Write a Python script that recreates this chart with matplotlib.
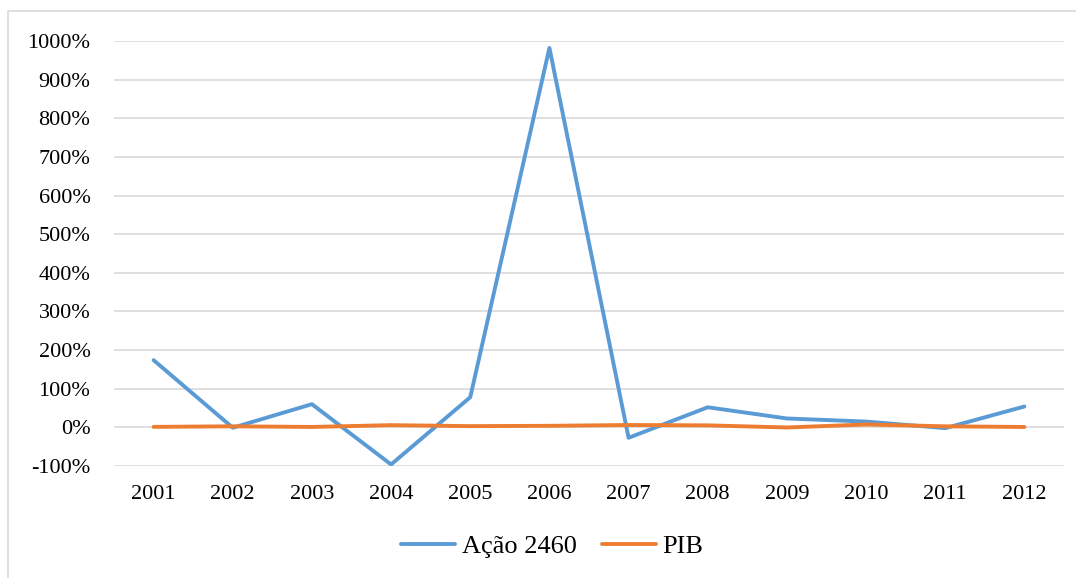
import matplotlib
matplotlib.use("Agg")
import matplotlib.pyplot as plt
from matplotlib.patches import Rectangle
from matplotlib.ticker import FuncFormatter

anos = ['2001', '2002', '2003', '2004', '2005', '2006',
        '2007', '2008', '2009', '2010', '2011', '2012']
acao = [174, -1, 60, -96, 78, 982, -27, 52, 23, 15, -2, 54]
pib = [1.3, 2.7, 1.1, 5.7, 3.2, 4.0, 6.1, 5.2, -0.3, 7.5, 2.7, 1.0]

plt.rcParams['font.family'] = ['Liberation Serif', 'DejaVu Serif']

fig = plt.figure(figsize=(10.76, 5.78), dpi=100)
ax = fig.add_axes([114/1076, 1 - 466/578, (1064 - 114)/1076, (466 - 41)/578])

# moldura do grafico
fig.patches.append(Rectangle((8/1076, -0.05), 1.0, 1.05 - 11/578, transform=fig.transFigure,
                             fill=False, edgecolor='#d9d9d9', lw=1.2))

x = range(len(anos))
ax.plot(x, acao, color='#5B9BD5', lw=2.8, label='Ação 2460', solid_capstyle='round')
ax.plot(x, pib, color='#ED7D31', lw=2.8, label='PIB', solid_capstyle='round')

ax.set_xlim(-0.5, len(anos) - 0.5)
ax.set_ylim(-100, 1000)
ax.set_yticks(range(-100, 1001, 100))
ax.yaxis.set_major_formatter(FuncFormatter(lambda v, p: '%d%%' % v))
ax.set_xticks(list(x))
ax.set_xticklabels(anos)
ax.grid(axis='y', color='#d9d9d9', lw=1.2)
ax.set_axisbelow(True)
for s in ax.spines.values():
    s.set_visible(False)
ax.tick_params(length=0, labelsize=16, colors='black')
ax.tick_params(axis='y', pad=17)
ax.tick_params(axis='x', pad=14)

fig.legend(loc='center', bbox_to_anchor=(0.513, 1 - 546/578), ncol=2, frameon=False,
           fontsize=19, handlelength=2.05, columnspacing=0.95, handletextpad=0.25)

fig.savefig('out.png', dpi=100)
